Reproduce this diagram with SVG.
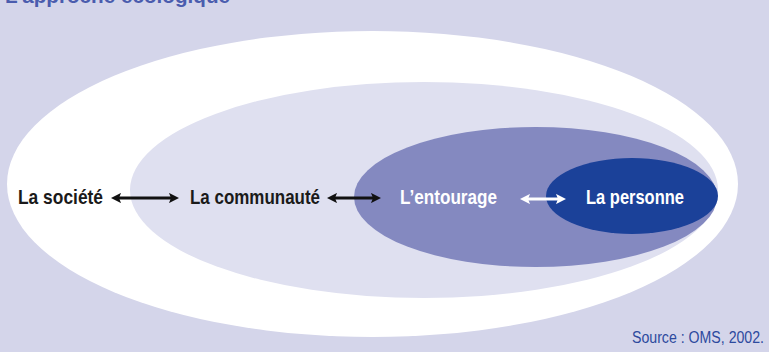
<svg xmlns="http://www.w3.org/2000/svg" width="769" height="355" viewBox="0 0 769 355">
<defs>
<style>
.lbl{font-family:"Liberation Sans Narrow","Liberation Sans",Arial,sans-serif;font-weight:bold;font-size:21px}
.dark{fill:#1a1a1a}
.light{fill:#ffffff}
.conn{stroke-width:3;fill:none}
</style>
<marker id="ahB" viewBox="0 0 10 10" refX="2" refY="5" markerWidth="3.4" markerHeight="3.4" orient="auto-start-reverse" markerUnits="strokeWidth"><path d="M0,0 L10,5 L0,10 L2,5 z" fill="#111"/></marker>
<marker id="ahW" viewBox="0 0 10 10" refX="2" refY="5" markerWidth="3.4" markerHeight="3.4" orient="auto-start-reverse" markerUnits="strokeWidth"><path d="M0,0 L10,5 L0,10 L2,5 z" fill="#fff"/></marker>
</defs>
<rect x="0" y="0" width="769" height="352" fill="#d4d5ea"/>
<rect x="0" y="352" width="769" height="3" fill="#ffffff"/>
<text x="5" y="3" font-family="Liberation Sans,Arial,sans-serif" font-weight="bold" font-size="21" fill="#4a5cae" textLength="225" lengthAdjust="spacingAndGlyphs">L’approche écologique</text>
<g id="societe">
<ellipse cx="372.5" cy="184" rx="365.5" ry="153" fill="#ffffff"/>
<text class="lbl dark" x="18" y="203.5" textLength="85" lengthAdjust="spacingAndGlyphs">La société</text>
</g>
<g id="communaute">
<ellipse cx="424" cy="190" rx="294" ry="108" fill="#dfe0f0"/>
<text class="lbl dark" x="190" y="203.5" textLength="130" lengthAdjust="spacingAndGlyphs">La communauté</text>
</g>
<g id="entourage">
<ellipse cx="535.5" cy="197" rx="181.5" ry="70" fill="#8489c0"/>
<text class="lbl light" x="400" y="203.5" textLength="97" lengthAdjust="spacingAndGlyphs">L’entourage</text>
</g>
<g id="personne">
<ellipse cx="632" cy="196" rx="86" ry="38" fill="#1b4199"/>
<text class="lbl light" x="586" y="203.5" textLength="98" lengthAdjust="spacingAndGlyphs">La personne</text>
</g>
<g id="connectors">
<line class="conn" x1="119" y1="198" x2="171" y2="198" stroke="#111" marker-start="url(#ahB)" marker-end="url(#ahB)"/>
<line class="conn" x1="335" y1="198" x2="373" y2="198" stroke="#111" marker-start="url(#ahB)" marker-end="url(#ahB)"/>
<line class="conn" x1="528" y1="199" x2="558" y2="199" stroke="#fff" marker-start="url(#ahW)" marker-end="url(#ahW)"/>
</g>
<text x="632" y="343" font-family="Liberation Sans Narrow,Liberation Sans,Arial,sans-serif" font-size="16" fill="#2d4a9e" textLength="132" lengthAdjust="spacingAndGlyphs">Source : OMS, 2002.</text>
</svg>
